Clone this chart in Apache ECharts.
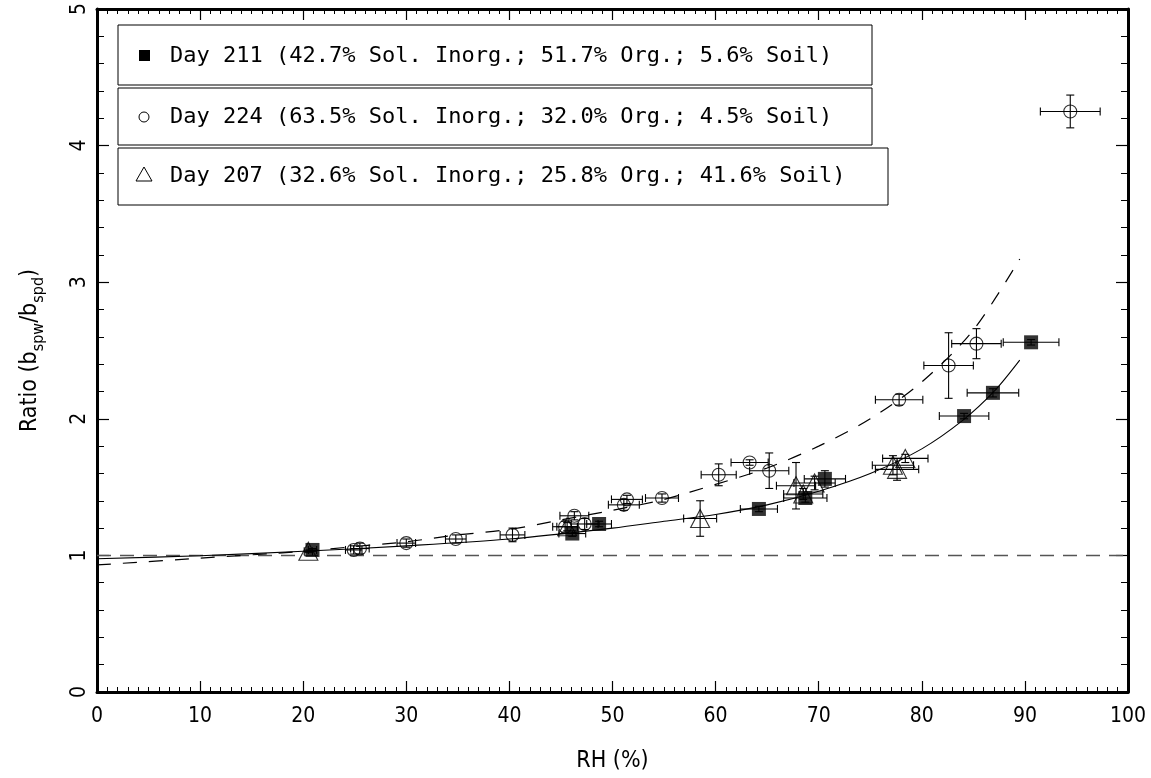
<!DOCTYPE html>
<html>
<head>
<meta charset="utf-8">
<script src="https://cdn.jsdelivr.net/npm/echarts@6/dist/echarts.min.js"></script>
<style>
html,body{margin:0;padding:0;background:#fff;}
#chart{width:1151px;height:778px;}
</style>
</head>
<body>
<div id="chart"></div>
<script>
// ---- Data ----
var xTicks = [0, 10, 20, 30, 40, 50, 60, 70, 80, 90, 100];
var yTicks = [0, 1, 2, 3, 4, 5];

// Day 211 (filled squares)
var d211_rh       = [20.9, 46.1, 48.7, 64.2, 68.7, 70.6, 84.1, 86.9, 90.6];
var d211_ratio    = [1.04, 1.16, 1.23, 1.34, 1.42, 1.56, 2.02, 2.19, 2.56];
var d211_rhErr    = [0.4, 1.3, 1.2, 1.8, 2.1, 2.0, 2.4, 2.5, 2.7];
var d211_ratioErr = [0.01, 0.02, 0.02, 0.02, 0.03, 0.06, 0.02, 0.03, 0.02];

// Day 224 (open circles)
var d224_rh       = [24.9, 25.5, 30.0, 34.8, 40.3, 45.4, 46.3, 47.3, 51.1, 51.4, 54.8, 60.3, 63.3, 65.2, 77.8, 82.6, 85.3, 94.4];
var d224_ratio    = [1.04, 1.05, 1.09, 1.12, 1.15, 1.21, 1.29, 1.23, 1.37, 1.41, 1.42, 1.59, 1.68, 1.62, 2.14, 2.39, 2.55, 4.25];
var d224_rhErr    = [0.8, 0.9, 0.9, 1.0, 1.2, 1.2, 1.4, 1.3, 1.5, 1.5, 1.6, 1.7, 1.8, 1.9, 2.3, 2.4, 2.4, 2.9];
var d224_ratioErr = [0.03, 0.04, 0.03, 0.03, 0.05, 0.04, 0.03, 0.04, 0.04, 0.03, 0.03, 0.08, 0.02, 0.13, 0.04, 0.24, 0.11, 0.12];

// Day 207 (open triangles)
var d207_rh       = [20.5, 45.6, 58.5, 67.8, 68.5, 69.6, 77.2, 77.6, 78.4];
var d207_ratio    = [1.03, 1.21, 1.27, 1.51, 1.45, 1.53, 1.66, 1.63, 1.71];
var d207_rhErr    = [0.4, 1.0, 1.6, 1.9, 1.9, 2.0, 2.0, 2.1, 2.2];
var d207_ratioErr = [0.01, 0.03, 0.13, 0.17, 0.04, 0.05, 0.07, 0.08, 0.03];

// Fit curves
var fitSolid_rh    = [0, 10, 20, 30, 40, 50, 55, 60, 65, 70, 75, 80, 84, 87, 89.5];
var fitSolid_ratio = [0.975, 0.998, 1.03, 1.07, 1.12, 1.20, 1.25, 1.30, 1.37, 1.47, 1.60, 1.78, 1.99, 2.2, 2.43];
var fitDash_rh     = [0, 10, 20, 25, 30, 35, 40, 45, 50, 55, 60, 65, 70, 75, 80, 85, 89.5];
var fitDash_ratio  = [0.93, 0.98, 1.03, 1.065, 1.10, 1.15, 1.19, 1.26, 1.33, 1.41, 1.52, 1.64, 1.80, 2.00, 2.27, 2.65, 3.17];
var unity_rh       = [0, 100];
var unity_ratio    = [1, 1];

var legendLabels = [
  'Day 211 (42.7% Sol. Inorg.; 51.7% Org.; 5.6% Soil)',
  'Day 224 (63.5% Sol. Inorg.; 32.0% Org.; 4.5% Soil)',
  'Day 207 (32.6% Sol. Inorg.; 25.8% Org.; 41.6% Soil)'
];

function zip2(a, b) { return a.map(function (v, i) { return [v, b[i]]; }); }
function zip4(a, b, c, d) { return a.map(function (v, i) { return [v, b[i], c[i], d[i]]; }); }

var FONT = 'DejaVu Sans Condensed, DejaVu Sans, sans-serif';
var LEGFONT = '22px "DejaVu Sans Mono", monospace';

function errRender(params, api) {
  var x = api.value(0), y = api.value(1), ex = api.value(2), ey = api.value(3);
  var l = api.coord([x - ex, y]), r = api.coord([x + ex, y]);
  var t = api.coord([x, y + ey]), b = api.coord([x, y - ey]);
  var cap = 4;
  var st = { stroke: '#000', lineWidth: 1.1 };
  function ln(x1, y1, x2, y2) { return { type: 'line', shape: { x1: x1, y1: y1, x2: x2, y2: y2 }, style: st }; }
  return {
    type: 'group',
    children: [
      ln(l[0], l[1], r[0], r[1]),
      ln(l[0], l[1] - cap, l[0], l[1] + cap),
      ln(r[0], r[1] - cap, r[0], r[1] + cap),
      ln(t[0], t[1], b[0], b[1]),
      ln(t[0] - cap, t[1], t[0] + cap, t[1]),
      ln(b[0] - cap, b[1], b[0] + cap, b[1])
    ]
  };
}

function errSeries(rh, ratio, ex, ey) {
  return {
    type: 'custom', renderItem: errRender, data: zip4(rh, ratio, ex, ey),
    encode: { x: 0, y: 1 }, silent: true, z: 3
  };
}

var axisCommon = {
  axisLine: { show: true, onZero: false, lineStyle: { color: '#000', width: 3 } },
  splitLine: { show: false }
};

var chart = echarts.init(document.getElementById('chart'), null, { renderer: 'canvas' });

var option = {
  animation: false,
  backgroundColor: '#fff',
  grid: { left: 97, right: 23, top: 8, bottom: 86, containLabel: false },
  xAxis: [
    Object.assign({}, axisCommon, {
      type: 'value', min: xTicks[0], max: xTicks[xTicks.length - 1], interval: 10, position: 'bottom',
      axisTick: { show: true, inside: true, length: 11, lineStyle: { color: '#000', width: 1.2 } },
      minorTick: { show: true, splitNumber: 10, length: 5, lineStyle: { color: '#000', width: 1 } },
      axisLabel: { show: true, margin: 14, fontFamily: FONT, fontSize: 21, color: '#000' },
      name: 'RH (%)', nameLocation: 'middle', nameGap: 58,
      nameTextStyle: { fontFamily: FONT, fontSize: 23, color: '#000' }
    }),
    Object.assign({}, axisCommon, {
      type: 'value', min: 0, max: 100, interval: 10, position: 'top',
      axisTick: { show: true, inside: true, length: 11, lineStyle: { color: '#000', width: 1.2 } },
      minorTick: { show: true, splitNumber: 10, length: 5, lineStyle: { color: '#000', width: 1 } },
      axisLabel: { show: false }
    })
  ],
  yAxis: [
    Object.assign({}, axisCommon, {
      type: 'value', min: yTicks[0], max: yTicks[yTicks.length - 1], interval: 1, position: 'left',
      axisTick: { show: true, inside: true, length: 12, lineStyle: { color: '#000', width: 1.2 } },
      minorTick: { show: true, splitNumber: 5, length: 7, lineStyle: { color: '#000', width: 1 } },
      axisLabel: { show: true, rotate: 90, margin: 7, fontFamily: FONT, fontSize: 21, color: '#000' },
      name: '{a|Ratio (b}{b|spw}{a|/b}{b|spd}{a|)}', nameLocation: 'middle', nameGap: 50, nameRotate: 90,
      nameTextStyle: {
        fontFamily: FONT, color: '#000',
        rich: {
          a: { fontFamily: FONT, fontSize: 23, color: '#000', lineHeight: 34, verticalAlign: 'middle' },
          b: { fontFamily: FONT, fontSize: 16, color: '#000', lineHeight: 34, verticalAlign: 'bottom' }
        }
      }
    }),
    Object.assign({}, axisCommon, {
      type: 'value', min: 0, max: 5, interval: 1, position: 'right',
      axisTick: { show: true, inside: true, length: 12, lineStyle: { color: '#000', width: 1.2 } },
      minorTick: { show: true, splitNumber: 5, length: 7, lineStyle: { color: '#000', width: 1 } },
      axisLabel: { show: false }
    })
  ],
  series: [
    { type: 'line', data: zip2(unity_rh, unity_ratio), showSymbol: false, symbol: 'none', silent: true,
      lineStyle: { color: '#555', width: 1.5, type: [14, 9] }, z: 1 },
    { type: 'line', data: zip2(fitSolid_rh, fitSolid_ratio), showSymbol: false, symbol: 'none', smooth: 0.3, silent: true,
      lineStyle: { color: '#000', width: 1.1 }, z: 2 },
    { type: 'line', data: zip2(fitDash_rh, fitDash_ratio), showSymbol: false, symbol: 'none', smooth: 0.3, silent: true,
      lineStyle: { color: '#000', width: 1.2, type: [14, 12] }, z: 2 },
    errSeries(d211_rh, d211_ratio, d211_rhErr, d211_ratioErr),
    errSeries(d224_rh, d224_ratio, d224_rhErr, d224_ratioErr),
    errSeries(d207_rh, d207_ratio, d207_rhErr, d207_ratioErr),
    { type: 'scatter', name: 'Day 211', data: zip2(d211_rh, d211_ratio), symbol: 'rect', symbolSize: 14,
      itemStyle: { color: '#000' }, z: 5 },
    { type: 'scatter', name: 'Day 224', data: zip2(d224_rh, d224_ratio), symbol: 'circle', symbolSize: 13,
      itemStyle: { color: 'rgba(0,0,0,0)', borderColor: '#000', borderWidth: 1.1 }, z: 5 },
    { type: 'scatter', name: 'Day 207', data: zip2(d207_rh, d207_ratio), symbol: 'triangle', symbolSize: [19, 18],
      itemStyle: { color: 'rgba(0,0,0,0)', borderColor: '#000', borderWidth: 1.1 }, z: 5 }
  ],
  graphic: [
    { type: 'rect', shape: { x: 118, y: 25, width: 754, height: 60 }, style: { fill: '#fff', stroke: '#000', lineWidth: 1 }, z: 10 },
    { type: 'rect', shape: { x: 118, y: 88, width: 754, height: 57 }, style: { fill: '#fff', stroke: '#000', lineWidth: 1 }, z: 10 },
    { type: 'rect', shape: { x: 118, y: 148, width: 770, height: 57 }, style: { fill: '#fff', stroke: '#000', lineWidth: 1 }, z: 10 },
    { type: 'rect', shape: { x: 139, y: 50, width: 11, height: 11 }, style: { fill: '#000' }, z: 11 },
    { type: 'circle', shape: { cx: 144, cy: 117, r: 5 }, style: { fill: 'none', stroke: '#000', lineWidth: 1 }, z: 11 },
    { type: 'polygon', shape: { points: [[144, 167], [136, 181], [152, 181]] }, style: { fill: 'none', stroke: '#000', lineWidth: 1 }, z: 11 },
    { type: 'text', x: 170, y: 56, style: { text: legendLabels[0], font: LEGFONT, fill: '#000', verticalAlign: 'middle' }, z: 11 },
    { type: 'text', x: 170, y: 117, style: { text: legendLabels[1], font: LEGFONT, fill: '#000', verticalAlign: 'middle' }, z: 11 },
    { type: 'text', x: 170, y: 176, style: { text: legendLabels[2], font: LEGFONT, fill: '#000', verticalAlign: 'middle' }, z: 11 }
  ]
};
chart.setOption(option);
</script>
</body>
</html>
